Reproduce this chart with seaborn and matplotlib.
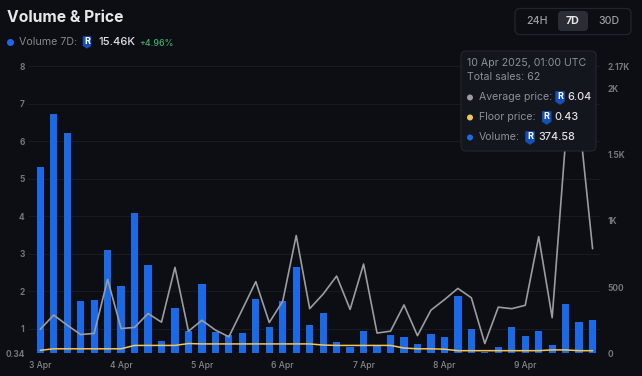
import numpy as np
import pandas as pd
import matplotlib
matplotlib.use('Agg')
import matplotlib.pyplot as plt
import seaborn as sns
from matplotlib.patches import FancyBboxPatch, Polygon, Circle

# values, one bar/point every 4 hours
volume = [1407, 1807, 1664, 395, 405, 781, 509, 1058, 667, 93, 342, 171, 521, 161,
          136, 154, 413, 199, 398, 655, 217, 307, 86, 48, 171, 63, 138, 126,
          71, 144, 123, 433, 181, 10, 45, 201, 133, 166, 63, 375, 237, 252]
avg_price = [0.98, 1.36, 1.09, 0.84, 0.87, 2.31, 1.00, 1.03, 1.40, 1.17, 2.63, 0.93, 1.22, 0.96,
             0.78, 1.51, 2.25, 1.16, 1.73, 3.48, 1.53, 1.92, 2.40, 1.51, 2.72, 0.88, 0.93, 1.63,
             0.81, 1.49, 1.77, 2.07, 1.82, 0.60, 1.57, 1.53, 1.62, 3.45, 1.29, 6.04, 6.60, 3.13]
floor_price = [0.42, 0.46, 0.46, 0.46, 0.46, 0.46, 0.46, 0.55, 0.55, 0.55, 0.55, 0.60, 0.59, 0.59,
               0.59, 0.59, 0.59, 0.59, 0.59, 0.59, 0.59, 0.56, 0.55, 0.55, 0.55, 0.55, 0.55, 0.48,
               0.46, 0.46, 0.45, 0.41, 0.41, 0.41, 0.41, 0.41, 0.41, 0.41, 0.43, 0.43, 0.41, 0.41]
day_labels = ['3 Apr', '4 Apr', '5 Apr', '6 Apr', '7 Apr', '8 Apr', '9 Apr']
left_ticks = [0.34, 1, 2, 3, 4, 5, 6, 7, 8]
left_labels = ['0.34', '1', '2', '3', '4', '5', '6', '7', '8']
right_ticks = [0, 500, 1000, 1500, 2000, 2170]
right_labels = ['0', '500', '1K', '1.5K', '2K', '2.17K']

BG = '#0c0e14'
BLUE = '#1a6ae8'
GREY = '#9a9c9f'
YELLOW = '#f0c65a'
TICK = '#74767c'

sns.set_theme(style='dark')
plt.rcParams['font.family'] = ['Inter', 'DejaVu Sans']

W, H = 642, 376
fig = plt.figure(figsize=(W / 100, H / 100), dpi=100, facecolor=BG)
rect = [28 / W, 1 - 353.3 / H, (600 - 28) / W, (353.3 - 66) / H]

df = pd.DataFrame({'i': np.arange(len(volume)), 'volume': volume,
                   'avg': avg_price, 'floor': floor_price})

# bars go on the volume scale (right), lines on the price scale (left)
ax_vol = fig.add_axes(rect, facecolor=BG)
sns.barplot(data=df, x='i', y='volume', native_scale=True, color=BLUE, saturation=1,
            width=0.54, linewidth=0, ax=ax_vol, zorder=2)
ax_vol.set_xlim(-0.91, 41.55)
ax_vol.set_ylim(0, 2170)
ax_vol.yaxis.tick_right()
ax_vol.set_yticks(right_ticks, right_labels, fontweight='bold')
ax_vol.set_xticks(df['i'][::6], day_labels, fontweight='medium')
ax_vol.tick_params(axis='y', length=0, pad=5.5, labelsize=6, labelcolor=TICK)
ax_vol.tick_params(axis='x', length=0, pad=5.5, labelsize=6.2, labelcolor='#85878d')
ax_vol.set_xlabel('')
ax_vol.set_ylabel('')
for s in ax_vol.spines.values():
    s.set_visible(False)

ax_price = fig.add_axes(rect, facecolor='none')
sns.lineplot(data=df, x='i', y='avg', color=GREY, lw=1.2, ax=ax_price)
sns.lineplot(data=df, x='i', y='floor', color=YELLOW, lw=1.1, ax=ax_price)
ax_price.set_xlim(-0.91, 41.55)
ax_price.set_ylim(0.34, 8)
ax_price.set_xticks([])
ax_price.set_yticks(left_ticks, left_labels, fontweight='bold')
ax_price.tick_params(axis='y', length=0, pad=2.5, labelsize=6, labelcolor=TICK)
ax_price.set_xlabel('')
ax_price.set_ylabel('')
for s in ax_price.spines.values():
    s.set_visible(False)
for t in left_ticks[1:]:
    ax_vol.axhline((t - 0.34) / (8 - 0.34) * 2170, color='#171a21', lw=0.8, zorder=1)

# page furniture, in pixel coordinates of the screenshot
ui = fig.add_axes([0, 0, 1, 1], facecolor='none')
ui.set_xlim(0, W)
ui.set_ylim(H, 0)
ui.axis('off')


def shield(x, y, s=1.0):
    pts = [(x - 4.5 * s, y - 6 * s), (x + 4.5 * s, y - 6 * s), (x + 4.5 * s, y + 4 * s),
           (x, y + 7 * s), (x - 4.5 * s, y + 4 * s)]
    ui.add_patch(Polygon(pts, closed=True, fc='#1450b8', ec='none', zorder=6))
    ui.text(x, y - 0.5 * s, 'R', color='white', fontsize=6.5, fontweight='bold',
            ha='center', va='center', zorder=7)


def label(x, y, s, color, size=7.4, weight='normal', ha='left', z=6):
    ui.text(x, y, s, color=color, fontsize=size, fontweight=weight, ha=ha, va='center', zorder=z)


label(7, 18, 'Volume & Price', '#e6e7e9', size=11.3, weight='bold')
ui.add_patch(Circle((10.5, 42.5), 3.5, fc=BLUE, ec='none'))
label(19, 42, 'Volume 7D:', '#85878d', size=7.7)
shield(87, 42, 0.95)
label(98, 42, '15.46K', '#e0e1e4', size=8, weight='medium')
label(139, 43, '+4.96%', '#3fae6e', size=6.4, weight='medium')

# period switch
ui.add_patch(FancyBboxPatch((515, 8.5), 116, 26, boxstyle='round,pad=0,rounding_size=5',
                            fc='none', ec='#22252c', lw=0.9))
ui.add_patch(FancyBboxPatch((558, 11), 30, 20, boxstyle='round,pad=0,rounding_size=4',
                            fc='#2a2d34', ec='none'))
label(537, 20.5, '24H', '#9b9da2', size=7.6, ha='center', weight='medium')
label(573, 20.5, '7D', '#e6e7e9', size=7.6, weight='bold', ha='center')
label(609, 20.5, '30D', '#9b9da2', size=7.6, ha='center', weight='medium')

# tooltip
ui.add_patch(FancyBboxPatch((461, 51), 135, 100, boxstyle='round,pad=0,rounding_size=5',
                            fc='#13161d', ec='#23262e', lw=0.8, zorder=5))
label(467, 62.5, '10 Apr 2025, 01:00 UTC', '#8d9097', size=7.6)
label(467, 77.5, 'Total sales: 62', '#8d9097', size=7.6)
rows = [(97.5, GREY, 'Average price:', 560, '6.04', 567.7),
        (117.5, YELLOW, 'Floor price:', 546.7, '0.43', 554.7),
        (137.5, BLUE, 'Volume:', 530, '374.58', 538)]
for y, c, name, sx, val, vx in rows:
    ui.add_patch(Circle((470, y), 3, fc=c, ec='none', zorder=6))
    label(479, y, name, '#8d9097', size=7.6)
    shield(sx, y, 1.05)
    label(vx, y, val, '#e0e1e4', size=7.8, weight='medium')

fig.savefig('out.png', dpi=100, facecolor=BG)
